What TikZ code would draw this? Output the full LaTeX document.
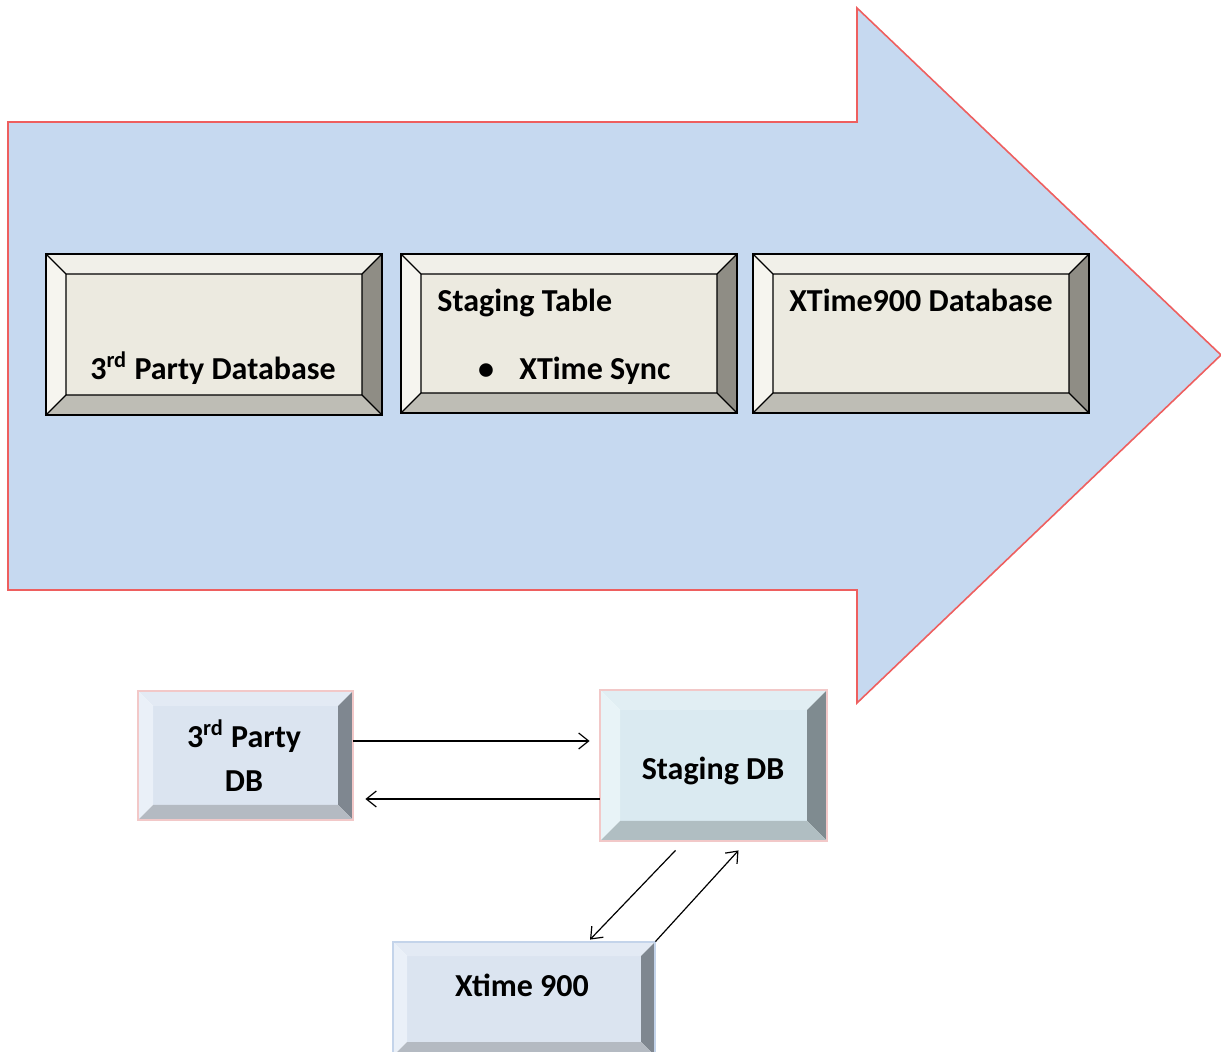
\documentclass[tikz,border=0pt]{standalone}
\usepackage{fontspec}
\setmainfont{Carlito}
\usetikzlibrary{arrows.meta,calc,fit}

\definecolor{arrowfill}{HTML}{C6D9F0}
\definecolor{arrowline}{HTML}{EE5F5F}
% tan bevel (upper row)
\definecolor{tanface}{HTML}{ECEAE0}
\definecolor{tantop}{HTML}{F1F0E9}
\definecolor{tanleft}{HTML}{F6F5EF}
\definecolor{tanright}{HTML}{8F8D85}
\definecolor{tanbot}{HTML}{BEBDB5}
% blue bevel (lower row)
\definecolor{blueface}{HTML}{DBE4F0}
\definecolor{bluetop}{HTML}{E3EAF4}
\definecolor{blueleft}{HTML}{EAF0F8}
\definecolor{blueright}{HTML}{7F8790}
\definecolor{bluebot}{HTML}{B4BAC2}
% aqua bevel (staging db)
\definecolor{aquaface}{HTML}{DAEAF1}
\definecolor{aquatop}{HTML}{E1EEF3}
\definecolor{aqualeft}{HTML}{E8F3F7}
\definecolor{aquaright}{HTML}{7F8B90}
\definecolor{aquabot}{HTML}{B0BEC2}
\definecolor{pinkedge}{HTML}{F2C8C8}
\definecolor{blueedge}{HTML}{C4D4EA}

% #1 name, #2..#5 corners, #6 bevel, #7 palette, #8 edge style
\newcommand{\bevbox}[8]{%
  \fill[#7face]  (#2+#6,#3+#6) rectangle (#4-#6,#5-#6);
  \fill[#7top]   (#2,#3) -- (#4,#3) -- (#4-#6,#3+#6) -- (#2+#6,#3+#6) -- cycle;
  \fill[#7left]  (#2,#3) -- (#2+#6,#3+#6) -- (#2+#6,#5-#6) -- (#2,#5) -- cycle;
  \fill[#7right] (#4,#3) -- (#4,#5) -- (#4-#6,#5-#6) -- (#4-#6,#3+#6) -- cycle;
  \fill[#7bot]   (#2,#5) -- (#2+#6,#5-#6) -- (#4-#6,#5-#6) -- (#4,#5) -- cycle;
  \draw[#8 inner] (#2+#6,#3+#6) rectangle (#4-#6,#5-#6)
        (#2,#3) -- (#2+#6,#3+#6) (#4,#3) -- (#4-#6,#3+#6)
        (#2,#5) -- (#2+#6,#5-#6) (#4,#5) -- (#4-#6,#5-#6);
  \draw[#8] (#2,#3) rectangle (#4,#5);
  \node[fit={(#2,#3) (#4,#5)},inner sep=0pt] (#1) {};
}

\tikzset{
  edgeblack/.style={draw=black,line width=0.8pt},
  edgeblack inner/.style={draw=black,line width=0.6pt},
  edgepink/.style={draw=pinkedge,line width=0.6pt},
  edgepink inner/.style={draw=none},
  edgeblue/.style={draw=blueedge,line width=0.6pt},
  edgeblue inner/.style={draw=none},
  lbl/.style={font=\bfseries\fontsize{16}{19}\selectfont,anchor=base,inner sep=0pt},
  link/.style={line width=0.6pt,-{Straight Barb[length=5pt,width=8pt]}},
}

\begin{document}
\begin{tikzpicture}[x=0.5pt,y=-0.5pt]
  \useasboundingbox (0,0) rectangle (1221,1052);

  % big arrow ------------------------------------------------------------------
  \filldraw[fill=arrowfill,draw=arrowline,line width=0.8pt]
        (8,122) -- (857,122) -- (857,8) -- (1221,355)
        -- (857,703) -- (857,590) -- (8,590) -- cycle;

  % upper row ------------------------------------------------------------------
  \bevbox{thirddb}{46}{254}{382}{415}{20}{tan}{edgeblack}
  \bevbox{stagetab}{401}{254}{737}{413}{20}{tan}{edgeblack}
  \bevbox{xtimedb}{753}{254}{1089}{413}{20}{tan}{edgeblack}

  \node[lbl] (lblthird) at (213,380) {3\textsuperscript{rd} Party Database};
  \node[lbl,anchor=base west] (lblstage) at (437,312) {Staging Table};
  \node[lbl] (lblbullet) at (486,380) {\textbullet};
  \node[lbl,anchor=base west] (lblsync) at (519,380) {XTime Sync};
  \node[lbl] (lblxtime) at (921,312) {XTime900 Database};

  % lower row ------------------------------------------------------------------
  \bevbox{pdb}{138}{691}{353}{820}{15}{blue}{edgepink}
  \bevbox{sdb}{600}{690}{827}{841}{20}{aqua}{edgepink}
  \bevbox{xdb}{393}{942}{655}{1056}{14}{blue}{edgeblue}

  \node[lbl] (lblpdb) at (244,748) {3\textsuperscript{rd} Party};
  \node[lbl] (lblpdbb) at (244,792) {DB};
  \node[lbl] (lblsdb) at (713,780) {Staging DB};
  \node[lbl] (lblxdb) at (522,996) {Xtime 900};

  % connectors -----------------------------------------------------------------
  \draw[link,shorten >=5pt] ($(pdb.east)+(0,-14.5)$) coordinate (p1) -- (p1 -| sdb.west);
  \draw[link,shorten >=6pt] ($(sdb.west)+(0,33.5)$) coordinate (s1) -- (s1 -| pdb.east);
  \draw[link] ($(sdb.south)+(-38,9)$) -- ($(xdb.north)+(66,-2)$);
  \draw[link] (xdb.north east) -- ($(sdb.south)+(25,9)$);
\end{tikzpicture}
\end{document}
